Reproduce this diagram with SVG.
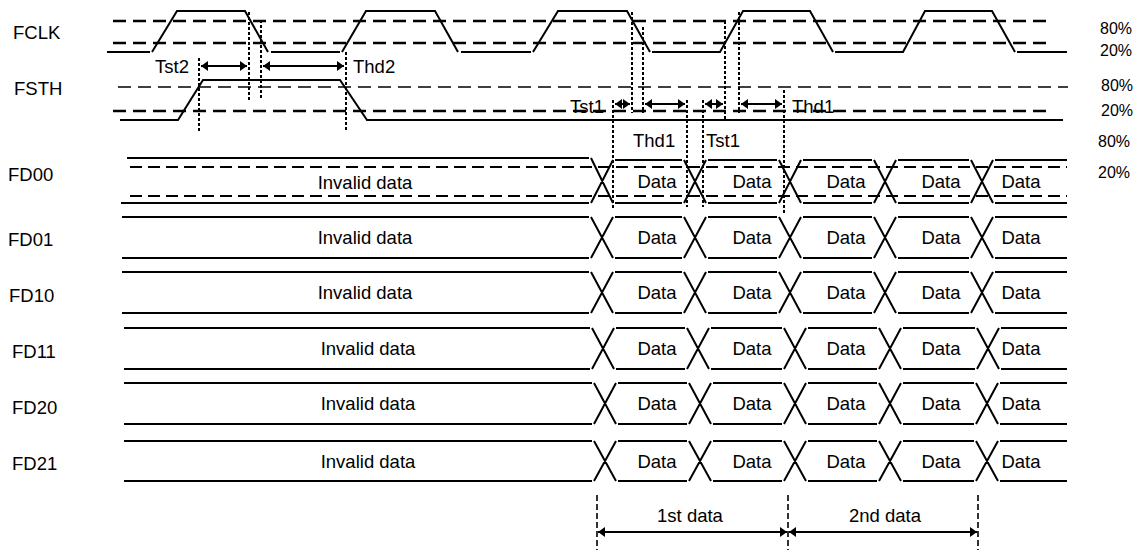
<svg xmlns="http://www.w3.org/2000/svg" width="1145" height="550" viewBox="0 0 1145 550">
<style>
.w{fill:none;stroke:#000;stroke-width:2}
.thick{fill:none;stroke:#000;stroke-width:2.5;stroke-dasharray:13 7}
.thin{fill:none;stroke:#000;stroke-width:1.6;stroke-dasharray:13 7}
.fdd{fill:none;stroke:#000;stroke-width:2;stroke-dasharray:12 6}
.dot{fill:none;stroke:#000;stroke-width:2;stroke-dasharray:3 2}
.dash{fill:none;stroke:#000;stroke-width:1.6;stroke-dasharray:6 3}
.arr{fill:none;stroke:#000;stroke-width:2;marker-start:url(#ah);marker-end:url(#ah)}
text{font-family:"Liberation Sans",Arial,sans-serif;font-size:18.5px;fill:#000}
.c{text-anchor:middle}
.p{font-size:16px}
</style>
<defs>
<marker id="ah" viewBox="0 0 10 10" refX="10" refY="5" markerWidth="7" markerHeight="10" markerUnits="userSpaceOnUse" orient="auto-start-reverse" preserveAspectRatio="none"><path d="M0,0 L10,5 L0,10 z" fill="#000"/></marker>
</defs>
<rect width="1145" height="550" fill="#fff"/>

<g id="FCLK">
<text x="13" y="39">FCLK</text>
<path class="thick" d="M113,21 H1048 M113,43 H1048"/>
<path class="w" d="M107,52 H150 M152,52 L177,11 H245 L268,52 M271,52 H340 M342,52 L366,11 H435 L458,52 M461,52 H531 M533,52 L558,11 H627 L650,52 M652,52 H720 L743,11 H810 L833,52 M835,52 H903 L925,11 H992 L1015,52 M1017,52 H1067"/>
<text class="p" x="1100" y="34">80%</text>
<text class="p" x="1100" y="56">20%</text>
</g>

<g id="FSTH">
<text x="14" y="95">FSTH</text>
<path class="thin" d="M118,87 H1068"/>
<path class="thick" d="M113,111 H1048"/>
<path class="w" d="M120,120 H178 L203,80 H340 L367,120 H1063"/>
<text class="p" x="1101" y="91">80%</text>
<text class="p" x="1101" y="116">20%</text>
</g>

<g id="FD00">
<text x="8" y="181">FD00</text>
<path class="fdd" d="M130,167 H1067 M130,196 H1067"/>
<path class="w" d="M127,158 H589 M615,160 H682 M708,160 H777 M803,160 H872 M898,160 H969 M995,160 H1067 M121,203 H589 M615,203 H682 M708,203 H777 M803,203 H872 M898,203 H969 M995,203 H1067 M591,158 L613,203 M591,203 L613,160 M684,160 L706,203 M684,203 L706,160 M779,160 L801,203 M779,203 L801,160 M874,160 L896,203 M874,203 L896,160 M971,160 L993,203 M971,203 L993,160"/>
<text class="c" x="365" y="189">Invalid data</text>
<text class="c" x="657" y="188">Data</text>
<text class="c" x="752" y="188">Data</text>
<text class="c" x="846" y="188">Data</text>
<text class="c" x="941" y="188">Data</text>
<text class="c" x="1021" y="188">Data</text>
<text class="p" x="1098" y="147">80%</text>
<text class="p" x="1098" y="178">20%</text>
</g>

<g id="FD01">
<text x="8" y="246">FD01</text>
<path class="w" d="M122,217 H589 M615,217 H682 M708,217 H777 M803,217 H872 M898,217 H969 M995,217 H1067 M122,258 H589 M615,258 H682 M708,258 H777 M803,258 H872 M898,258 H969 M995,258 H1067 M591,217 L613,258 M591,258 L613,217 M684,217 L706,258 M684,258 L706,217 M779,217 L801,258 M779,258 L801,217 M874,217 L896,258 M874,258 L896,217 M971,217 L993,258 M971,258 L993,217"/>
<text class="c" x="365" y="244">Invalid data</text>
<text class="c" x="657" y="244">Data</text>
<text class="c" x="752" y="244">Data</text>
<text class="c" x="846" y="244">Data</text>
<text class="c" x="941" y="244">Data</text>
<text class="c" x="1021" y="244">Data</text>
</g>

<g id="FD10">
<text x="9" y="302">FD10</text>
<path class="w" d="M122,272 H589 M615,272 H682 M708,272 H777 M803,272 H872 M898,272 H969 M995,272 H1067 M122,313 H589 M615,313 H682 M708,313 H777 M803,313 H872 M898,313 H969 M995,313 H1067 M591,272 L613,313 M591,313 L613,272 M684,272 L706,313 M684,313 L706,272 M779,272 L801,313 M779,313 L801,272 M874,272 L896,313 M874,313 L896,272 M971,272 L993,313 M971,313 L993,272"/>
<text class="c" x="365" y="299">Invalid data</text>
<text class="c" x="657" y="299">Data</text>
<text class="c" x="752" y="299">Data</text>
<text class="c" x="846" y="299">Data</text>
<text class="c" x="941" y="299">Data</text>
<text class="c" x="1021" y="299">Data</text>
</g>

<g id="FD11">
<text x="12" y="358">FD11</text>
<path class="w" d="M124,328 H590 M616,328 H685 M711,328 H782 M808,328 H877 M903,328 H975 M1001,328 H1067 M124,369 H590 M616,369 H685 M711,369 H782 M808,369 H877 M903,369 H975 M1001,369 H1067 M592,328 L614,369 M592,369 L614,328 M687,328 L709,369 M687,369 L709,328 M784,328 L806,369 M784,369 L806,328 M879,328 L901,369 M879,369 L901,328 M977,328 L999,369 M977,369 L999,328"/>
<text class="c" x="368" y="355">Invalid data</text>
<text class="c" x="657" y="355">Data</text>
<text class="c" x="752" y="355">Data</text>
<text class="c" x="846" y="355">Data</text>
<text class="c" x="941" y="355">Data</text>
<text class="c" x="1021" y="355">Data</text>
</g>

<g id="FD20">
<text x="12" y="414">FD20</text>
<path class="w" d="M124,383 H592 M618,383 H687 M713,383 H782 M808,383 H877 M903,383 H974 M1000,383 H1067 M124,424 H592 M618,424 H687 M713,424 H782 M808,424 H877 M903,424 H974 M1000,424 H1067 M594,383 L616,424 M594,424 L616,383 M689,383 L711,424 M689,424 L711,383 M784,383 L806,424 M784,424 L806,383 M879,383 L901,424 M879,424 L901,383 M976,383 L998,424 M976,424 L998,383"/>
<text class="c" x="368" y="410">Invalid data</text>
<text class="c" x="657" y="410">Data</text>
<text class="c" x="752" y="410">Data</text>
<text class="c" x="846" y="410">Data</text>
<text class="c" x="941" y="410">Data</text>
<text class="c" x="1021" y="410">Data</text>
</g>

<g id="FD21">
<text x="12" y="470">FD21</text>
<path class="w" d="M124,441 H592 M618,441 H687 M713,441 H782 M808,441 H877 M903,441 H974 M1000,441 H1067 M124,481 H592 M618,481 H687 M713,481 H782 M808,481 H877 M903,481 H974 M1000,481 H1067 M594,441 L616,481 M594,481 L616,441 M689,441 L711,481 M689,481 L711,441 M784,441 L806,481 M784,481 L806,441 M879,441 L901,481 M879,481 L901,441 M976,441 L998,481 M976,481 L998,441"/>
<text class="c" x="368" y="468">Invalid data</text>
<text class="c" x="657" y="468">Data</text>
<text class="c" x="752" y="468">Data</text>
<text class="c" x="846" y="468">Data</text>
<text class="c" x="941" y="468">Data</text>
<text class="c" x="1021" y="468">Data</text>
</g>

<g id="connectors">
<path class="dot" d="M199,58 V132 M249,12 V100 M261,20 V100 M346,52 V132 M632,12 V113 M643,27 V113 M725,21 V120 M739,12 V113 M613,100 V210 M687,100 V207 M703,100 V207 M784,90 V213"/>
<path class="arr" d="M201,66 H247"/>
<path class="arr" d="M263,66 H344"/>
<path class="arr" d="M615,104 H630"/>
<path class="arr" d="M645,104 H685"/>
<path class="arr" d="M705,104 H723"/>
<path class="arr" d="M741,104 H782"/>
<path class="dash" d="M597,495 V550 M788,495 V550 M978,495 V550"/>
<path class="arr" d="M598,532 H787"/>
<path class="arr" d="M789,532 H977"/>
</g>

<g id="labels">
<text x="155" y="73">Tst2</text>
<text x="353" y="73">Thd2</text>
<text x="570" y="113">Tst1</text>
<text x="792" y="113">Thd1</text>
<text x="633" y="147">Thd1</text>
<text x="706" y="147">Tst1</text>
<text class="c" x="690" y="522">1st data</text>
<text class="c" x="885" y="522">2nd data</text>
</g>
</svg>
